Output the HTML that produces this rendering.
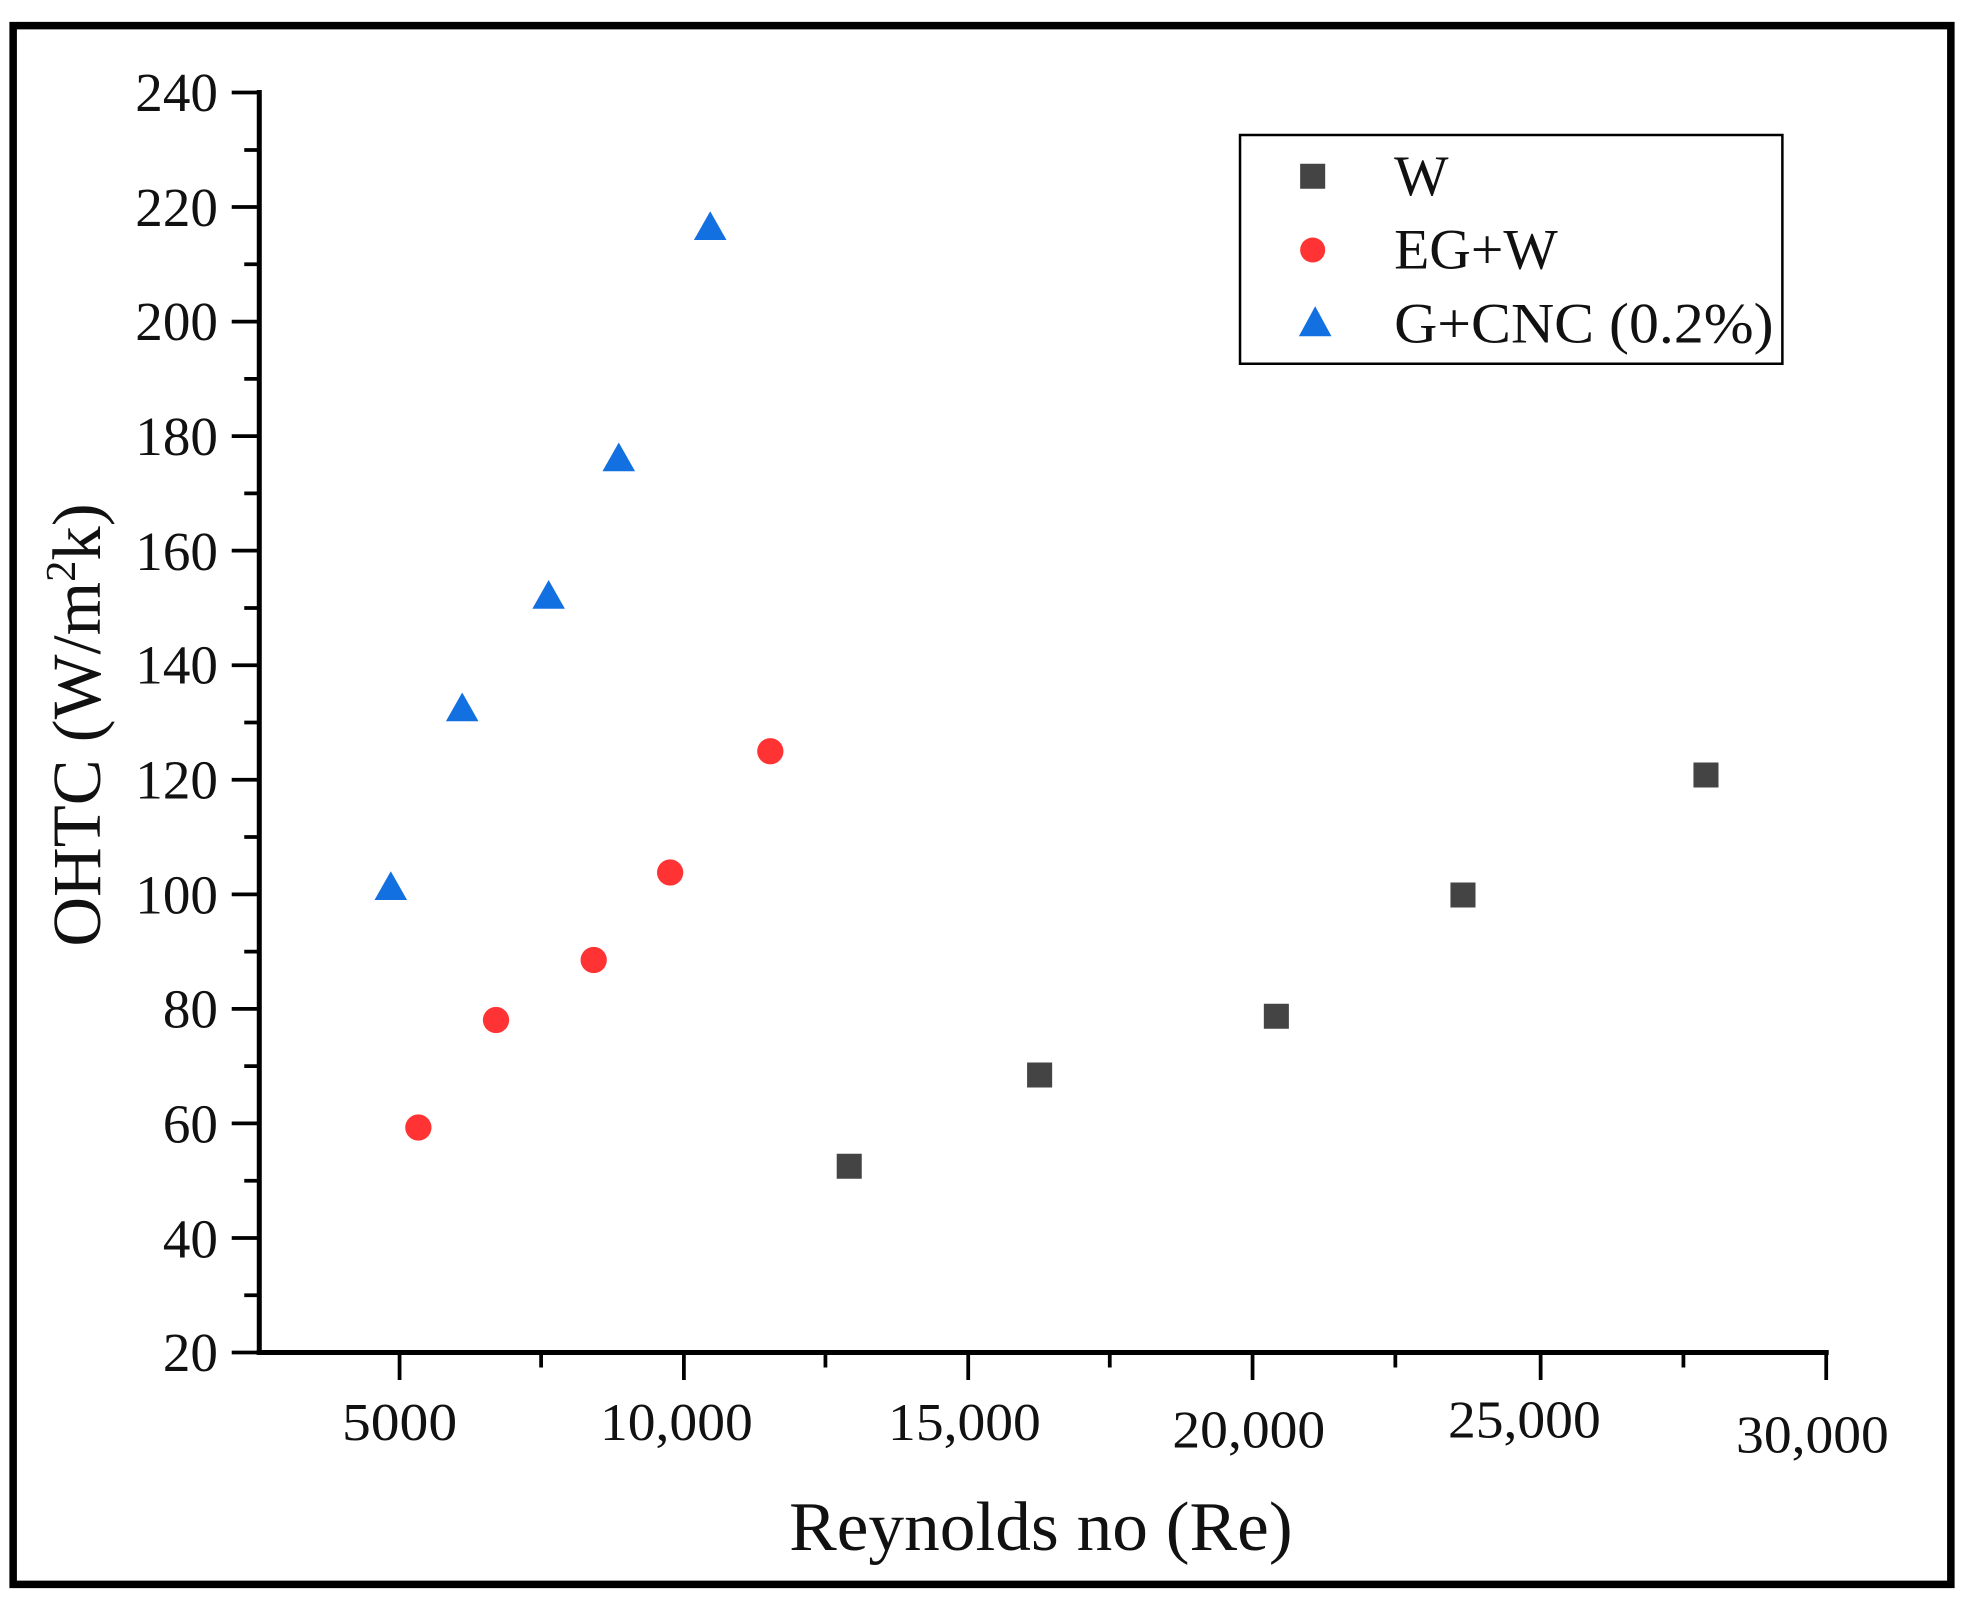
<!DOCTYPE html>
<html><head><meta charset="utf-8"><style>
html,body{margin:0;padding:0;background:#fff;}
svg{display:block;}
text{font-family:"Liberation Serif",serif;fill:#111;}
</style></head><body>
<svg width="1964" height="1600" viewBox="0 0 1568 1280" preserveAspectRatio="none" xmlns="http://www.w3.org/2000/svg">
<rect x="0" y="0" width="1568" height="1280" fill="#fff"/>
<rect x="10.5" y="20.5" width="1547" height="1247" fill="none" stroke="#000" stroke-width="6"/>
<line x1="207" y1="72" x2="207" y2="1084" stroke="#000" stroke-width="4"/>
<line x1="205" y1="1082" x2="1460" y2="1082" stroke="#000" stroke-width="4"/>
<g stroke="#000" stroke-width="3">
<line x1="185" y1="74" x2="207" y2="74"/><line x1="195" y1="120" x2="207" y2="120"/>
<line x1="185" y1="165.6" x2="207" y2="165.6"/><line x1="195" y1="211.4" x2="207" y2="211.4"/>
<line x1="185" y1="257.3" x2="207" y2="257.3"/><line x1="195" y1="303.1" x2="207" y2="303.1"/>
<line x1="185" y1="348.9" x2="207" y2="348.9"/><line x1="195" y1="394.7" x2="207" y2="394.7"/>
<line x1="185" y1="440.5" x2="207" y2="440.5"/><line x1="195" y1="486.4" x2="207" y2="486.4"/>
<line x1="185" y1="532.2" x2="207" y2="532.2"/><line x1="195" y1="578" x2="207" y2="578"/>
<line x1="185" y1="623.8" x2="207" y2="623.8"/><line x1="195" y1="669.6" x2="207" y2="669.6"/>
<line x1="185" y1="715.5" x2="207" y2="715.5"/><line x1="195" y1="761.3" x2="207" y2="761.3"/>
<line x1="185" y1="807.1" x2="207" y2="807.1"/><line x1="195" y1="852.9" x2="207" y2="852.9"/>
<line x1="185" y1="898.7" x2="207" y2="898.7"/><line x1="195" y1="944.6" x2="207" y2="944.6"/>
<line x1="185" y1="990.4" x2="207" y2="990.4"/><line x1="195" y1="1036.2" x2="207" y2="1036.2"/>
<line x1="185" y1="1082" x2="207" y2="1082"/>
<line x1="319" y1="1082" x2="319" y2="1104"/><line x1="432" y1="1082" x2="432" y2="1094"/>
<line x1="546" y1="1082" x2="546" y2="1104"/><line x1="659" y1="1082" x2="659" y2="1094"/>
<line x1="773" y1="1082" x2="773" y2="1104"/><line x1="886" y1="1082" x2="886" y2="1094"/>
<line x1="1000" y1="1082" x2="1000" y2="1104"/><line x1="1114" y1="1082" x2="1114" y2="1094"/>
<line x1="1230" y1="1082" x2="1230" y2="1104"/><line x1="1344" y1="1082" x2="1344" y2="1094"/>
<line x1="1458" y1="1082" x2="1458" y2="1104"/>
</g>
<g font-size="44" text-anchor="end">
<text x="174" y="89">240</text><text x="174" y="181">220</text><text x="174" y="272">200</text>
<text x="174" y="364">180</text><text x="174" y="456">160</text><text x="174" y="547">140</text>
<text x="174" y="639">120</text><text x="174" y="731">100</text><text x="174" y="822">80</text>
<text x="174" y="914">60</text><text x="174" y="1006">40</text><text x="174" y="1097">20</text>
</g>
<g font-size="42" text-anchor="middle">
<text x="319" y="1152" textLength="92" lengthAdjust="spacingAndGlyphs">5000</text>
<text x="540" y="1152" textLength="122" lengthAdjust="spacingAndGlyphs">10,000</text>
<text x="770" y="1152" textLength="122" lengthAdjust="spacingAndGlyphs">15,000</text>
<text x="997" y="1158" textLength="122" lengthAdjust="spacingAndGlyphs">20,000</text>
<text x="1217" y="1150" textLength="122" lengthAdjust="spacingAndGlyphs">25,000</text>
<text x="1447" y="1162" textLength="122" lengthAdjust="spacingAndGlyphs">30,000</text>
</g>
<text x="831" y="1240" font-size="56" text-anchor="middle" textLength="402" lengthAdjust="spacingAndGlyphs">Reynolds no (Re)</text>
<text transform="translate(80,580) rotate(-90)" font-size="55" text-anchor="middle">OHTC (W/m<tspan font-size="34" dy="-20">2</tspan><tspan dy="20">k)</tspan></text>
<rect x="990" y="108" width="433" height="183" fill="#fff" stroke="#000" stroke-width="2"/>
<rect x="1038" y="131" width="20" height="20" fill="#444"/>
<circle cx="1048" cy="200" r="10" fill="#f33"/>
<polygon points="1050,245 1063,269 1037,269" fill="#1270e0"/>
<g font-size="46"><text x="1113" y="156">W</text><text x="1113" y="215">EG+W</text><text x="1113" y="274" textLength="303" lengthAdjust="spacingAndGlyphs">G+CNC (0.2%)</text></g>
<g fill="#444">
<rect x="668" y="923" width="20" height="20"/><rect x="820" y="850" width="20" height="20"/>
<rect x="1009" y="803" width="20" height="20"/><rect x="1158" y="706" width="20" height="20"/>
<rect x="1352" y="610" width="20" height="20"/>
</g>
<g fill="#f33">
<circle cx="334" cy="902" r="10.5"/><circle cx="396" cy="816" r="10.5"/><circle cx="474" cy="768" r="10.5"/>
<circle cx="535" cy="698" r="10.5"/><circle cx="615" cy="601" r="10.5"/>
</g>
<g fill="#1270e0">
<polygon points="312,697 325,720 299,720"/><polygon points="369,554 382,577 356,577"/>
<polygon points="438,464 451,487 425,487"/><polygon points="494,354 507,377 481,377"/>
<polygon points="567,169 580,192 554,192"/>
</g>
</svg>
</body></html>
